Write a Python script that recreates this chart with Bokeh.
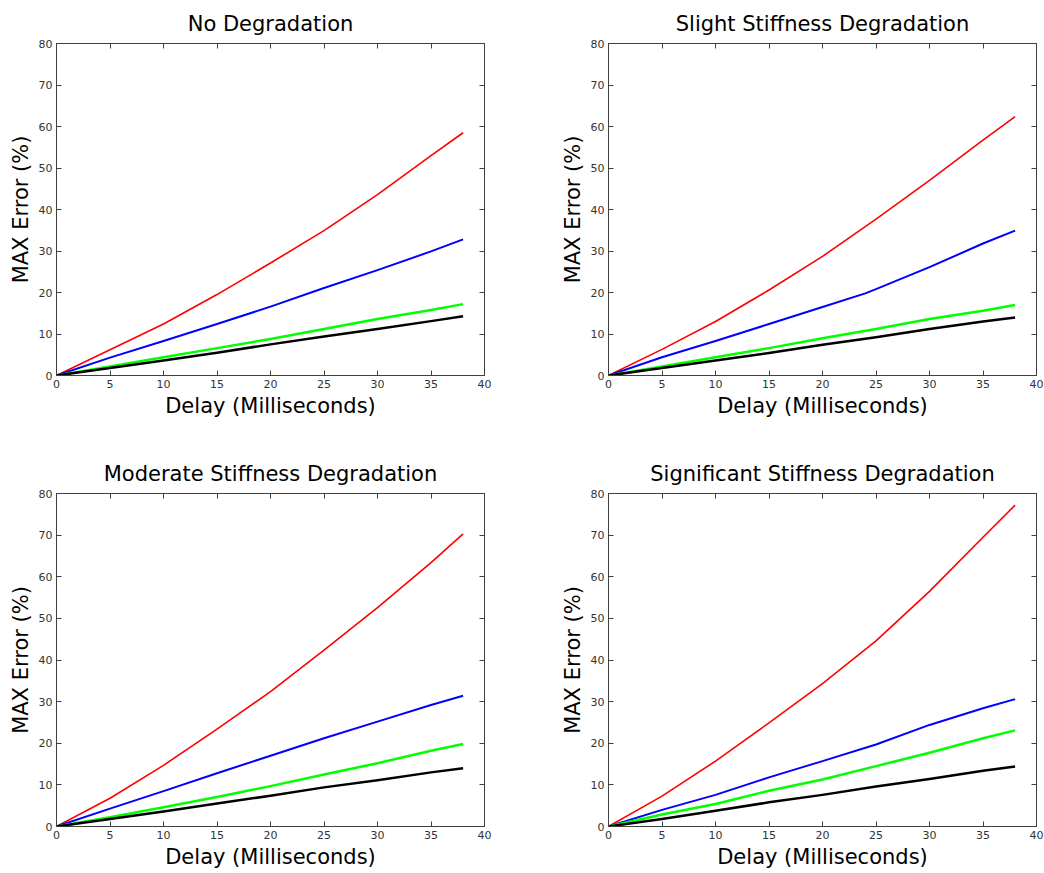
from bokeh.plotting import figure
from bokeh.models import Range1d, LinearAxis, FixedTicker, CustomJSTickFormatter
from bokeh.layouts import column, row
from bokeh.embed import file_html
from bokeh.resources import INLINE

# ---- data ----
X = [0, 5, 10, 15, 20, 25, 30, 35, 38]
X_SLIGHT_BLUE = [0, 5, 10, 15, 20, 24, 25, 30, 35, 38]
XTICKS = [0, 5, 10, 15, 20, 25, 30, 35, 40]
YTICKS = [0, 10, 20, 30, 40, 50, 60, 70, 80]

TITLES = ["No Degradation", "Slight Stiffness Degradation",
          "Moderate Stiffness Degradation", "Significant Stiffness Degradation"]

nd_red = [0, 6.2, 12.4, 19.5, 27.1, 34.9, 43.6, 53.0, 58.5]
nd_blue = [0, 4.3, 8.3, 12.4, 16.6, 21.1, 25.4, 29.9, 32.8]
nd_green = [0, 2.2, 4.4, 6.6, 8.8, 11.2, 13.6, 15.8, 17.2]
nd_black = [0, 1.8, 3.6, 5.5, 7.5, 9.4, 11.2, 13.1, 14.3]

sl_red = [0, 6.3, 13.0, 20.6, 28.7, 37.7, 47.0, 56.7, 62.4]
sl_blue = [0, 4.4, 8.3, 12.4, 16.5, 19.8, 20.8, 26.1, 31.8, 34.9]
sl_green = [0, 2.2, 4.4, 6.6, 9.0, 11.2, 13.6, 15.6, 17.0]
sl_black = [0, 1.8, 3.6, 5.4, 7.4, 9.2, 11.2, 13.0, 14.0]

md_red = [0, 6.8, 14.7, 23.4, 32.4, 42.4, 52.6, 63.4, 70.3]
md_blue = [0, 4.3, 8.5, 12.8, 17.0, 21.2, 25.2, 29.2, 31.4]
md_green = [0, 2.2, 4.6, 7.1, 9.7, 12.5, 15.2, 18.2, 19.8]
md_black = [0, 1.8, 3.6, 5.5, 7.4, 9.4, 11.1, 13.0, 14.0]

sg_red = [0, 7.3, 15.7, 24.9, 34.3, 44.6, 56.5, 69.5, 77.2]
sg_blue = [0, 4.0, 7.6, 11.8, 15.7, 19.7, 24.4, 28.4, 30.6]
sg_green = [0, 2.9, 5.4, 8.6, 11.3, 14.5, 17.7, 21.2, 23.1]
sg_black = [0, 1.8, 3.8, 5.8, 7.6, 9.6, 11.4, 13.4, 14.4]

AXIS_COLOR = "#404040"
LABEL_FONT = "DejaVu Sans"


def style_axis(ax, show_labels):
    ax.major_tick_in = 5
    ax.major_tick_out = 0
    ax.minor_tick_line_color = None
    ax.axis_line_color = AXIS_COLOR
    ax.major_tick_line_color = AXIS_COLOR
    if show_labels:
        ax.major_label_text_font = LABEL_FONT
        ax.major_label_text_font_size = "11px"
        ax.major_label_text_color = "#333333"
        ax.major_label_standoff = 4
        ax.axis_label_text_font = LABEL_FONT
        ax.axis_label_text_font_size = "21px"
        ax.axis_label_text_font_style = "normal"
        ax.axis_label_text_color = "black"
        ax.axis_label_standoff = 3
    else:
        ax.major_label_standoff = 0


def make(title, series, left, right, top, bottom, fh):
    p = figure(frame_width=428, frame_height=fh,
               min_border_left=left, min_border_right=right,
               min_border_top=top, min_border_bottom=bottom,
               x_range=Range1d(0, 40), y_range=Range1d(0, 80),
               output_backend="svg", toolbar_location=None, title=title)
    p.title.text_font = LABEL_FONT
    p.title.text_font_size = "21px"
    p.title.text_font_style = "normal"
    p.title.text_color = "black"
    p.title.align = "center"
    p.title.standoff = 15
    p.xgrid.visible = False
    p.ygrid.visible = False
    p.outline_line_color = AXIS_COLOR
    p.background_fill_color = "white"
    p.border_fill_color = "white"

    p.xaxis.ticker = FixedTicker(ticks=XTICKS)
    p.yaxis.ticker = FixedTicker(ticks=YTICKS)
    p.xaxis.axis_label = "Delay (Milliseconds)"
    p.yaxis.axis_label = "MAX Error (%)"
    style_axis(p.xaxis[0], True)
    style_axis(p.yaxis[0], True)

    top_ax = LinearAxis(ticker=FixedTicker(ticks=XTICKS),
                        formatter=CustomJSTickFormatter(code="return ''"))
    style_axis(top_ax, False)
    p.add_layout(top_ax, "above")
    right_ax = LinearAxis(ticker=FixedTicker(ticks=YTICKS),
                          formatter=CustomJSTickFormatter(code="return ''"))
    style_axis(right_ax, False)
    p.add_layout(right_ax, "right")

    for xs, ys, color, w in series:
        p.line(xs, ys, line_color=color, line_width=w, line_join="round")
    return p


p1 = make(TITLES[0], [(X, nd_red, "#ff0000", 1.6), (X, nd_blue, "#0000ff", 2),
                      (X, nd_green, "#00ff00", 2.5), (X, nd_black, "#000000", 2.5)],
          56, 38, 43, 61, 332)
p2 = make(TITLES[1], [(X, sl_red, "#ff0000", 1.6), (X_SLIGHT_BLUE, sl_blue, "#0000ff", 2),
                      (X, sl_green, "#00ff00", 2.5), (X, sl_black, "#000000", 2.5)],
          86, 8, 43, 61, 332)
p3 = make(TITLES[2], [(X, md_red, "#ff0000", 1.6), (X, md_blue, "#0000ff", 2),
                      (X, md_green, "#00ff00", 2.5), (X, md_black, "#000000", 2.5)],
          56, 38, 57, 47, 333)
p4 = make(TITLES[3], [(X, sg_red, "#ff0000", 1.6), (X, sg_blue, "#0000ff", 2),
                      (X, sg_green, "#00ff00", 2.5), (X, sg_black, "#000000", 2.5)],
          86, 8, 57, 47, 333)

layout = column(row(p1, p2), row(p3, p4))
open("out.html", "w").write(file_html(layout, INLINE))
